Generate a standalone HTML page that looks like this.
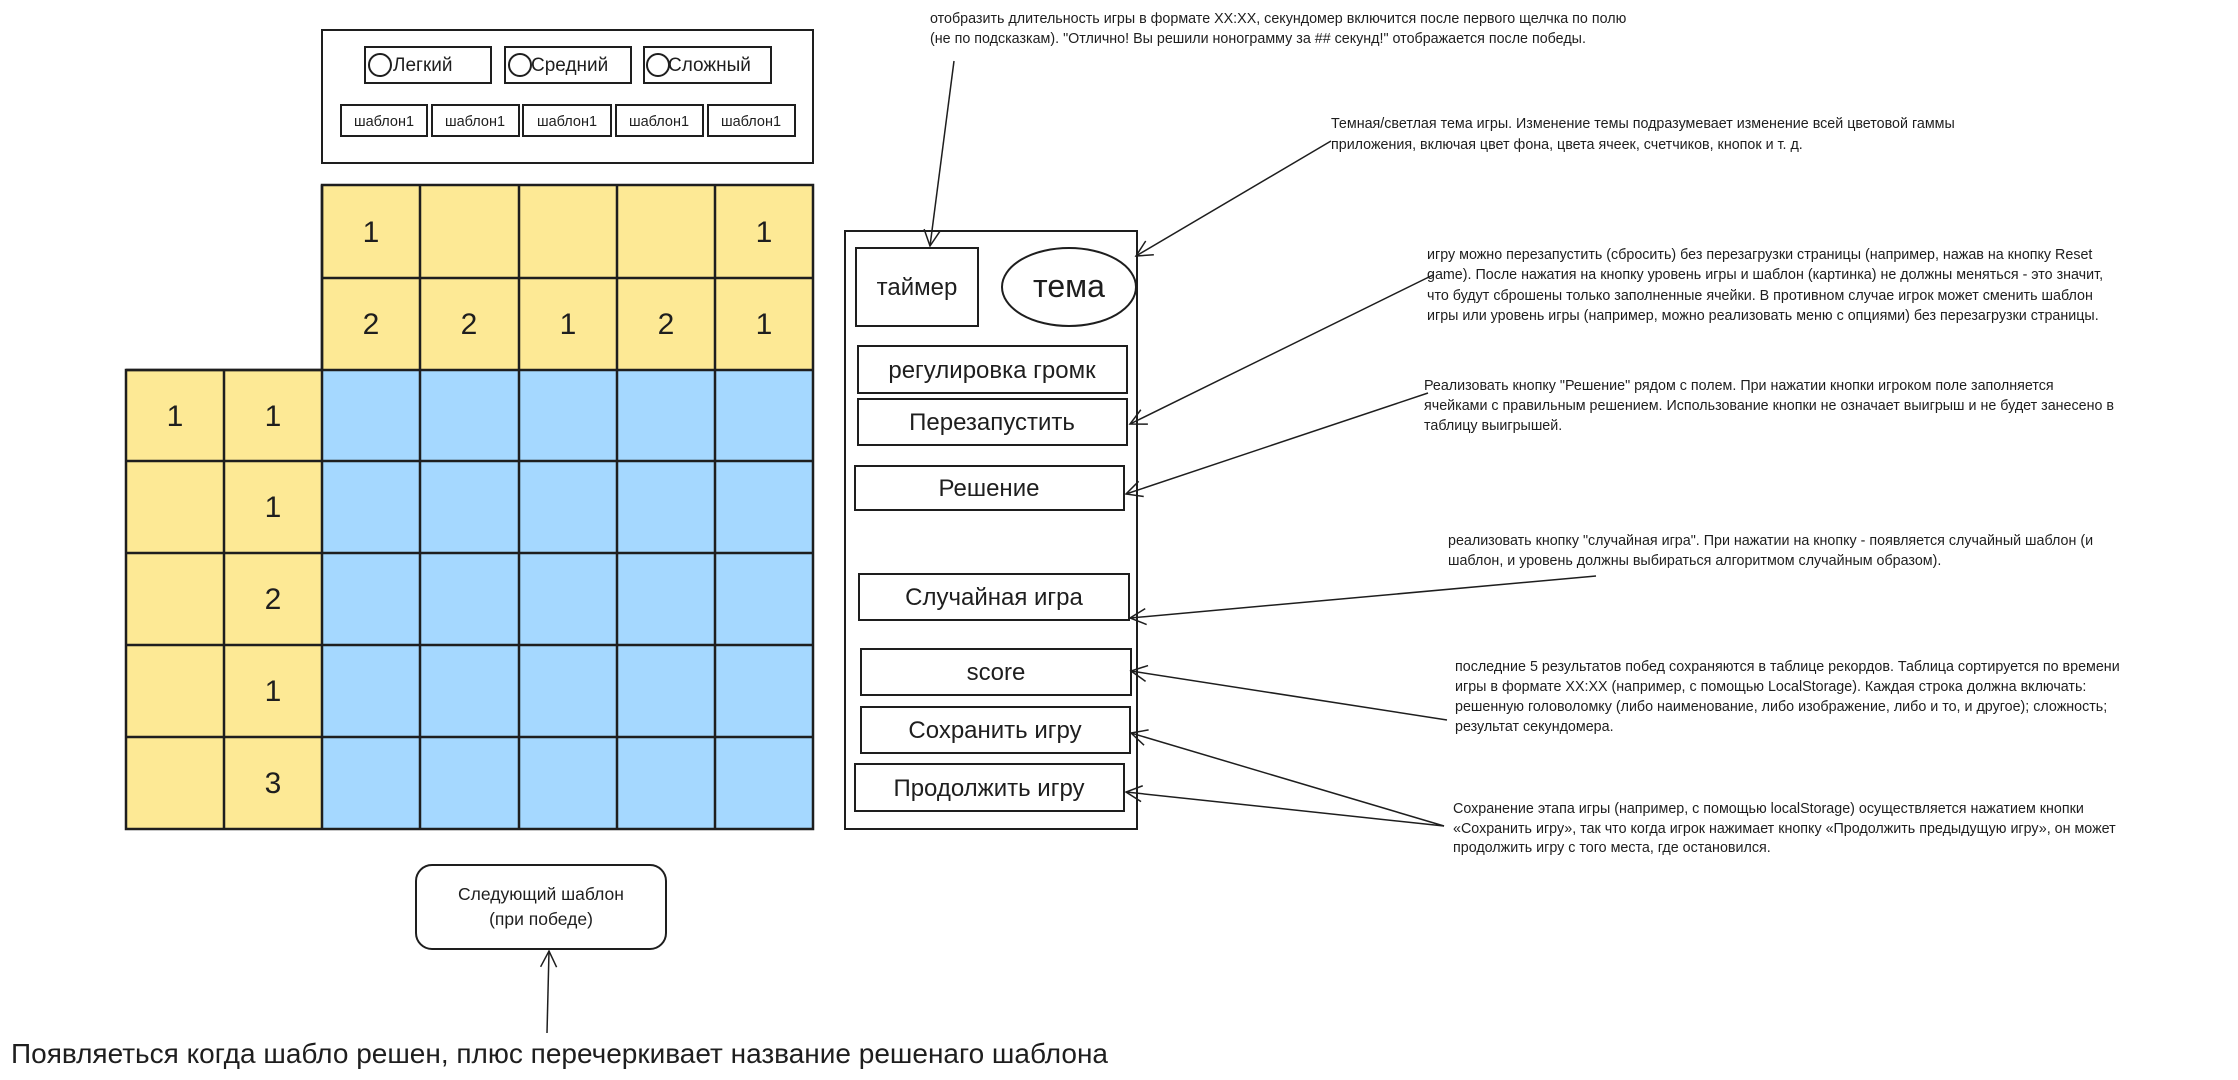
<!DOCTYPE html>
<html><head><meta charset="utf-8"><style>
html,body{margin:0;padding:0;background:#fff;width:2238px;height:1080px;overflow:hidden}
svg{display:block}
text{font-family:"Liberation Sans","DejaVu Sans",sans-serif;fill:#1e1e1e}
.n{font-size:30px;text-anchor:middle}
.b{font-size:24px;text-anchor:middle}
.s{font-size:14.3px}
</style></head><body>
<svg width="2238" height="1080" viewBox="0 0 2238 1080" xmlns="http://www.w3.org/2000/svg">
<defs><marker id="a" markerWidth="20" markerHeight="20" refX="18" refY="10" orient="auto" markerUnits="userSpaceOnUse"><path d="M2,2 L18,10 L2,18" fill="none" stroke="#1e1e1e" stroke-width="1.5"/></marker></defs>
<g fill="none" stroke="#1e1e1e" stroke-width="2">
<rect x="322" y="30" width="491" height="133"/>
<rect x="365" y="47" width="126" height="36"/>
<rect x="505" y="47" width="126" height="36"/>
<rect x="644" y="47" width="127" height="36"/>
<circle cx="380" cy="65" r="11"/><circle cx="520" cy="65" r="11"/><circle cx="658" cy="65" r="11"/>
<rect x="341" y="105" width="86" height="31"/>
<rect x="432" y="105" width="87" height="31"/>
<rect x="523" y="105" width="88" height="31"/>
<rect x="616" y="105" width="87" height="31"/>
<rect x="708" y="105" width="87" height="31"/>
</g>
<g font-size="19"><text x="393" y="71">Легкий</text><text x="531" y="71">Средний</text><text x="668" y="71">Сложный</text></g>
<g font-size="14.5" text-anchor="middle"><text x="384" y="126">шаблон1</text><text x="475" y="126">шаблон1</text><text x="567" y="126">шаблон1</text><text x="659" y="126">шаблон1</text><text x="751" y="126">шаблон1</text></g>
<rect x="322" y="185" width="491" height="185" fill="#fde995"/>
<rect x="126" y="370" width="196" height="459" fill="#fde995"/>
<rect x="322" y="370" width="491" height="459" fill="#a5d8ff"/>
<g stroke="#1e1e1e" stroke-width="2.5" fill="none">
<path d="M322,185H813V829H126V370H322Z"/>
<path d="M420,185V829M519,185V829M617,185V829M715,185V829M224,370V829M322,185V829"/>
<path d="M322,278H813M126,370H813M126,461H813M126,553H813M126,645H813M126,737H813"/>
</g>
<g class="n">
<text class="n" x="371" y="242">1</text><text class="n" x="764" y="242">1</text>
<text class="n" x="371" y="334">2</text><text class="n" x="469" y="334">2</text><text class="n" x="568" y="334">1</text><text class="n" x="666" y="334">2</text><text class="n" x="764" y="334">1</text>
<text class="n" x="175" y="426">1</text><text class="n" x="273" y="426">1</text>
<text class="n" x="273" y="517">1</text><text class="n" x="273" y="609">2</text><text class="n" x="273" y="701">1</text><text class="n" x="273" y="793">3</text>
</g>
<g fill="none" stroke="#1e1e1e" stroke-width="2">
<rect x="845" y="231" width="292" height="598"/>
<rect x="856" y="248" width="122" height="78"/>
<ellipse cx="1069" cy="287" rx="67" ry="39"/>
<rect x="858" y="346" width="269" height="47"/>
<rect x="858" y="399" width="269" height="46"/>
<rect x="855" y="466" width="269" height="44"/>
<rect x="859" y="574" width="270" height="46"/>
<rect x="861" y="649" width="270" height="46"/>
<rect x="861" y="707" width="269" height="46"/>
<rect x="855" y="764" width="269" height="47"/>
<rect x="416" y="865" width="250" height="84" rx="16"/>
</g>
<text class="b" x="917" y="295">таймер</text>
<text x="1069" y="297" font-size="32" text-anchor="middle">тема</text>
<text class="b" x="992" y="378">регулировка громк</text>
<text class="b" x="992" y="430">Перезапустить</text>
<text class="b" x="989" y="496">Решение</text>
<text class="b" x="994" y="605">Случайная игра</text>
<text class="b" x="996" y="680">score</text>
<text class="b" x="995" y="738">Сохранить игру</text>
<text class="b" x="989" y="796">Продолжить игру</text>
<text x="541" y="900" font-size="17.5" text-anchor="middle">Следующий шаблон</text>
<text x="541" y="925" font-size="17.5" text-anchor="middle">(при победе)</text>
<text x="11" y="1063" font-size="28">Появляеться когда шабло решен, плюс перечеркивает название решенаго шаблона</text>
<g stroke="#1e1e1e" stroke-width="1.5" fill="none" marker-end="url(#a)">
<path d="M547,1033 L549,951"/>
<path d="M954,61 L930,246"/>
<path d="M1331,141 L1136,256"/>
<path d="M1433,275 L1130,424"/>
<path d="M1428,393 L1126,494"/>
<path d="M1596,576 L1130,618"/>
<path d="M1447,720 L1131,671"/>
<path d="M1444,826 L1131,733"/>
<path d="M1444,826 L1126,792"/>
</g>
<g class="s">
<text class="s" x="930" y="23">отобразить длительность игры в формате XX:XX, секундомер включится после первого щелчка по полю</text>
<text class="s" x="930" y="43">(не по подсказкам). "Отлично! Вы решили нонограмму за ## секунд!" отображается после победы.</text>
<text class="s" x="1331" y="128">Темная/светлая тема игры. Изменение темы подразумевает изменение всей цветовой гаммы</text>
<text class="s" x="1331" y="149">приложения, включая цвет фона, цвета ячеек, счетчиков, кнопок и т. д.</text>
<text class="s" x="1427" y="259">игру можно перезапустить (сбросить) без перезагрузки страницы (например, нажав на кнопку Reset</text>
<text class="s" x="1427" y="279">game). После нажатия на кнопку уровень игры и шаблон (картинка) не должны меняться - это значит,</text>
<text class="s" x="1427" y="300">что будут сброшены только заполненные ячейки. В противном случае игрок может сменить шаблон</text>
<text class="s" x="1427" y="320">игры или уровень игры (например, можно реализовать меню с опциями) без перезагрузки страницы.</text>
<text class="s" x="1424" y="390">Реализовать кнопку "Решение" рядом с полем. При нажатии кнопки игроком поле заполняется</text>
<text class="s" x="1424" y="410">ячейками с правильным решением. Использование кнопки не означает выигрыш и не будет занесено в</text>
<text class="s" x="1424" y="430">таблицу выигрышей.</text>
<text class="s" x="1448" y="545">реализовать кнопку "случайная игра". При нажатии на кнопку - появляется случайный шаблон (и</text>
<text class="s" x="1448" y="565">шаблон, и уровень должны выбираться алгоритмом случайным образом).</text>
<text class="s" x="1455" y="671">последние 5 результатов побед сохраняются в таблице рекордов. Таблица сортируется по времени</text>
<text class="s" x="1455" y="691">игры в формате XX:XX (например, с помощью LocalStorage). Каждая строка должна включать:</text>
<text class="s" x="1455" y="711">решенную головоломку (либо наименование, либо изображение, либо и то, и другое); сложность;</text>
<text class="s" x="1455" y="731">результат секундомера.</text>
<text class="s" x="1453" y="813">Сохранение этапа игры (например, с помощью localStorage) осуществляется нажатием кнопки</text>
<text class="s" x="1453" y="833">«Сохранить игру», так что когда игрок нажимает кнопку «Продолжить предыдущую игру», он может</text>
<text class="s" x="1453" y="852">продолжить игру с того места, где остановился.</text>
</g>
</svg>
</body></html>
